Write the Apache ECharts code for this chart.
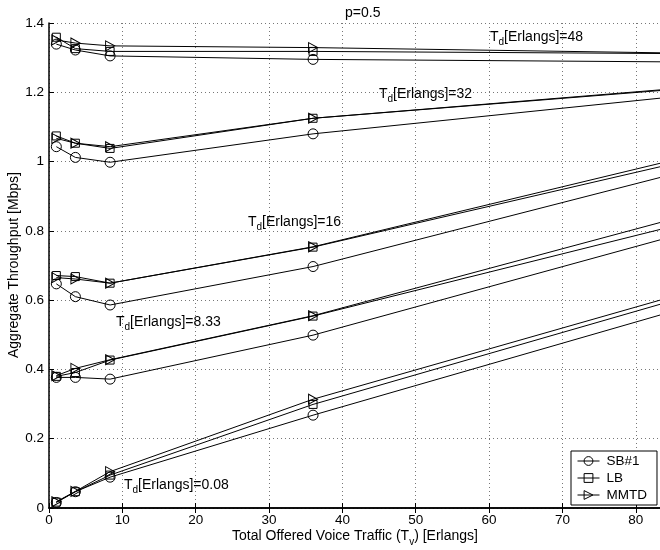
<!DOCTYPE html>
<html>
<head>
<meta charset="utf-8">
<script src="https://cdn.jsdelivr.net/npm/echarts@6/dist/echarts.min.js"></script>
<style>
  html, body { margin: 0; padding: 0; background: #fff; }
  #chart { width: 660px; height: 550px; }
</style>
</head>
<body>
<div id="chart"></div>
<script>
// offered voice traffic Tv [Erlangs], last point sits on the clipped right edge
const tv = [1, 3.6, 8.33, 36, 83.3];
const schemes = ['SB#1', 'LB', 'MMTD'];
const tdLabels = ['48', '32', '16', '8.33', '0.08'];

// throughput [Mbps] per Td, order: SB#1, LB, MMTD
const td48 = [
  [1.339, 1.322, 1.305, 1.295, 1.288],
  [1.359, 1.326, 1.318, 1.318, 1.312],
  [1.351, 1.342, 1.334, 1.329, 1.314]
];
const td32 = [
  [1.043, 1.012, 0.998, 1.080, 1.183],
  [1.074, 1.053, 1.038, 1.125, 1.205],
  [1.067, 1.053, 1.043, 1.125, 1.207]
];
const td16 = [
  [0.647, 0.610, 0.586, 0.697, 0.954],
  [0.671, 0.668, 0.649, 0.753, 0.985],
  [0.665, 0.661, 0.649, 0.754, 0.995]
];
const td833 = [
  [0.377, 0.377, 0.372, 0.499, 0.774],
  [0.380, 0.391, 0.427, 0.554, 0.804],
  [0.382, 0.403, 0.428, 0.555, 0.824]
];
const td008 = [
  [0.016, 0.047, 0.089, 0.268, 0.557],
  [0.017, 0.047, 0.095, 0.299, 0.588],
  [0.018, 0.048, 0.105, 0.314, 0.600]
];
const groups = [td48, td32, td16, td833, td008];

const FONT = '"Liberation Sans", Arial, Helvetica, sans-serif';
const triRight = 'path://M0,0 L10,5 L0,10 Z';
const symbols = ['circle', 'rect', triRight];
const symSizes = [10, 8, [9, 10]];

let series = [];
groups.forEach(function (g) {
  g.forEach(function (vals, k) {
    series.push({
      name: schemes[k],
      type: 'line',
      symbol: symbols[k],
      symbolSize: symSizes[k],
      clip: true,
      lineStyle: { color: '#000', width: 1 },
      itemStyle: { color: 'rgba(0,0,0,0)', borderColor: '#000', borderWidth: 1 },
      emphasis: { disabled: true },
      data: vals.map(function (v, i) {
        let d = { value: [tv[i], v] };
        if (i === vals.length - 1) d.symbol = 'none';
        return d;
      })
    });
  });
});

// T_d annotations (pixel anchors: left of "T", vertical centre of the text)
const labelPos = [[490, 40], [379, 97], [248, 225], [116, 325], [124, 488]];
const rich = {
  a: { fontFamily: FONT, fontSize: 14, fill: '#000' },
  s: { fontFamily: FONT, fontSize: 10, fill: '#000', padding: [11, 0, 0, 0] }
};
let graphics = tdLabels.map(function (t, i) {
  return {
    type: 'text',
    left: labelPos[i][0],
    top: labelPos[i][1] - 10,
    z: 10,
    style: { text: '{a|T}{s|d}{a|[Erlangs]=' + t + '}', rich: rich }
  };
});
graphics.push({
  type: 'text',
  x: 355,
  y: 526,
  style: {
    text: '{a|Total Offered Voice Traffic (T}{s|v}{a|) [Erlangs]}',
    textAlign: 'center',
    rich: rich
  }
});
// y axis title
graphics.push({
  type: 'text',
  x: 14,
  y: 265,
  rotation: Math.PI / 2,
  style: {
    text: 'Aggregate Throughput [Mbps]',
    fontFamily: FONT,
    fontSize: 14,
    fill: '#000',
    textAlign: 'center',
    textVerticalAlign: 'middle'
  }
});

const gridLine = { show: true, lineStyle: { color: '#777', type: [1, 3], width: 1 } };

let myChart = echarts.init(document.getElementById('chart'));
myChart.setOption({
  animation: false,
  backgroundColor: '#fff',
  title: {
    text: 'p=0.5',
    left: 340,
    top: 1,
    textStyle: { fontFamily: FONT, fontSize: 14, fontWeight: 'normal', color: '#000' }
  },
  grid: { left: 49, top: 23, right: 0, bottom: 42, containLabel: false, outerBoundsMode: 'none' },
  legend: {
    data: schemes,
    orient: 'vertical',
    left: 571,
    top: 451,
    padding: [3, 10, 3, 6],
    itemGap: 3,
    itemWidth: 22,
    itemHeight: 11,
    backgroundColor: '#fff',
    borderColor: '#000',
    borderWidth: 1,
    borderRadius: 0,
    selectedMode: false,
    lineStyle: { width: 1 },
    itemStyle: { borderWidth: 1 },
    textStyle: { fontFamily: FONT, fontSize: 13.5, color: '#000', padding: [0, 0, 0, 2] }
  },
  xAxis: [{
    type: 'value',
    min: 0,
    max: 83.3,
    interval: 10,
    axisLine: { show: true, onZero: false, lineStyle: { color: '#000', width: 1.5 } },
    axisTick: { show: true, inside: true, length: 5, lineStyle: { color: '#000' } },
    axisLabel: { fontFamily: FONT, fontSize: 13.5, color: '#000', margin: 5, showMaxLabel: false },
    splitLine: gridLine
  }, {
    type: 'value',
    position: 'top',
    min: 0,
    max: 83.3,
    interval: 10,
    axisLine: { show: true, lineStyle: { color: '#000', width: 1.5 } },
    axisTick: { show: true, inside: true, length: 5, lineStyle: { color: '#000' } },
    axisLabel: { show: false },
    splitLine: { show: false }
  }],
  yAxis: {
    type: 'value',
    min: 0,
    max: 1.4,
    interval: 0.2,
    axisLine: { show: true, lineStyle: { color: '#000', width: 1.5 } },
    axisTick: { show: true, inside: true, length: 5, lineStyle: { color: '#000' } },
    axisLabel: {
      fontFamily: FONT, fontSize: 13.5, color: '#000', margin: 5,
      formatter: function (v) { return String(Math.round(v * 10) / 10); }
    },
    splitLine: gridLine
  },
  graphic: graphics,
  series: series
});
</script>
</body>
</html>
